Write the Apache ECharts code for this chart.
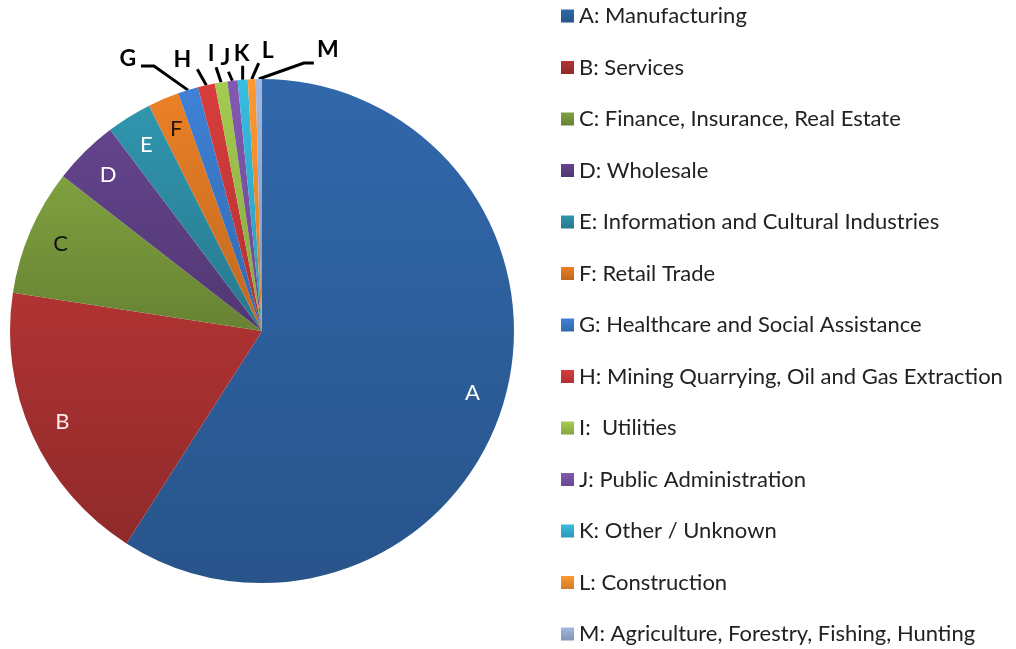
<!DOCTYPE html>
<html>
<head>
<meta charset="utf-8">
<title>Industry share</title>
<script src="https://cdn.jsdelivr.net/npm/echarts@6/dist/echarts.min.js"></script>
<style>
  html, body { margin: 0; padding: 0; background: #fff; }
  #chart { width: 1016px; height: 649px; }
</style>
</head>
<body>
<div id="chart"></div>
<script>
// categories (legend text) and share of each slice (%)
const categories = [
  "A: Manufacturing",
  "B: Services",
  "C: Finance, Insurance, Real Estate",
  "D: Wholesale",
  "E: Information and Cultural Industries",
  "F: Retail Trade",
  "G: Healthcare and Social Assistance",
  "H: Mining Quarrying, Oil and Gas Extraction",
  "I:  Utilities",
  "J: Public Administration",
  "K: Other / Unknown",
  "L: Construction",
  "M: Agriculture, Forestry, Fishing, Hunting"
];
const shares = [59.1, 18.4, 8.1, 4.2, 2.9, 2.0, 1.3, 1.1, 0.8, 0.65, 0.65, 0.5, 0.4];

// styles
const palette = [
  "#2f63a3", "#a93131", "#79993c", "#5f4186", "#2e8ea6", "#e07a24",
  "#3b7bcc", "#cf3a3a", "#9cc24c", "#7d55a8", "#35b4d6", "#f7922e", "#9aafd6"
];
const insideLabelColors = ["#fff", "#fbecec", "#111", "#fff", "#fff", "#2a1500"];
// outside labels: [elbow dx, elbow dy, tail dx, label dx, label dy] relative to the rim point
const outsideLabelOffsets = [
  [-34, -24, -13, -60, -32],
  [-9, -16, 0, -24, -26],
  [-5, -15, 0, -10, -29],
  [-4, -9, 0, -7, -23],
  [0, -14, 0, -1, -26],
  [7, -16, 0, 16, -29],
  [45, -16, 10, 69, -29]
];

const CX = 262, CY = 331, R = 252;

function shade(hex, f) {
  const n = parseInt(hex.slice(1), 16);
  const r = Math.min(255, Math.round(((n >> 16) & 255) * f));
  const g = Math.min(255, Math.round(((n >> 8) & 255) * f));
  const b = Math.min(255, Math.round((n & 255) * f));
  return "rgb(" + r + "," + g + "," + b + ")";
}

const chart = echarts.init(document.getElementById("chart"));

const seriesData = categories.map((name, i) => ({
  name: name,
  value: shares[i],
  itemStyle: {
    color: {
      type: "linear", x: 0, y: 0, x2: 0, y2: 1,
      colorStops: [
        { offset: 0, color: shade(palette[i], 1.05) },
        { offset: 1, color: shade(palette[i], 0.85) }
      ]
    }
  },
  label: i < 6
    ? { position: "inside", color: insideLabelColors[i], fontSize: 22, fontWeight: "normal" }
    : { position: "outside", color: "#000", fontSize: 23, fontWeight: "bold" },
  labelLine: { show: i >= 6 }
}));

chart.setOption({
  animation: false,
  color: palette,
  legend: {
    orient: "vertical",
    left: 561,
    top: 4,
    padding: 0,
    icon: "rect",
    itemWidth: 13,
    itemHeight: 13,
    itemGap: 27.5,
    selectedMode: false,
    textStyle: {
      fontFamily: "Lato",
      fontSize: 22,
      lineHeight: 24,
      color: "#222"
    },
    data: categories
  },
  series: [
    {
      type: "pie",
      center: [CX, CY],
      radius: R,
      startAngle: 90,
      clockwise: true,
      avoidLabelOverlap: false,
      emphasis: { disabled: true },
      label: {
        show: true,
        fontFamily: "Lato",
        formatter: (p) => p.name.charAt(0)
      },
      labelLine: {
        length: 10,
        length2: 5,
        lineStyle: { color: "#000", width: 3 }
      },
      labelLayout: function (params) {
        const i = params.dataIndex;
        const lr = params.labelRect;
        if (i < 6) {
          const lx = lr.x + lr.width / 2, ly = lr.y + lr.height / 2;
          const dx = lx - CX, dy = ly - CY;
          const d = Math.sqrt(dx * dx + dy * dy) || 1;
          return {
            x: CX + dx / d * R * 0.87,
            y: CY + dy / d * R * 0.87,
            align: "center",
            verticalAlign: "middle"
          };
        }
        const o = outsideLabelOffsets[i - 6];
        const p0 = params.labelLinePoints[0];
        const p1 = [p0[0] + o[0], p0[1] + o[1]];
        const p2 = [p1[0] + o[2], p1[1]];
        return {
          x: p0[0] + o[3],
          y: p0[1] + o[4],
          align: "center",
          verticalAlign: "middle",
          labelLinePoints: [p0, p1, p2]
        };
      },
      data: seriesData
    }
  ]
});
</script>
</body>
</html>
